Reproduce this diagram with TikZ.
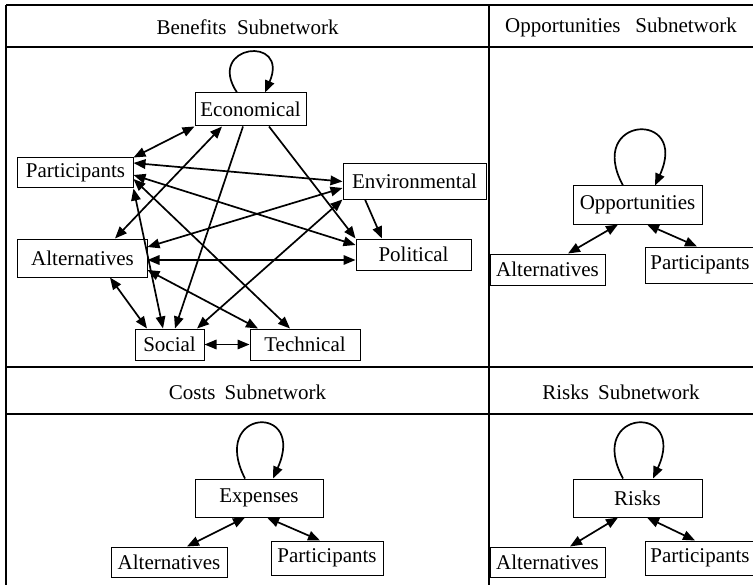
\documentclass[tikz,border=0pt]{standalone}
\usepackage{fontspec}
\setmainfont{Liberation Serif}
\usetikzlibrary{arrows.meta}
\begin{document}
\begin{tikzpicture}[x=1bp,y=-1bp,
  box/.style={draw,line width=1bp,inner sep=0pt,font=\fontsize{21bp}{25bp}\selectfont},
  sz/.style 2 args={minimum width=#1bp,minimum height=#2bp},
  frame/.style={line width=2bp},
  hdr/.style={font=\fontsize{21bp}{25bp}\selectfont,inner sep=0pt},
  bi/.style={line width=1.7bp,{Triangle[length=12bp,width=9.5bp]}-{Triangle[length=12bp,width=9.5bp]}},
  uni/.style={line width=1.7bp,-{Triangle[length=12bp,width=9.5bp]}}]
\useasboundingbox (0,0) rectangle (753,585);
\clip (0,0) rectangle (753,585);
% frame
\draw[frame] (6,5) -- (760,5);
\draw[frame] (6,5) -- (6,590);
\draw[frame] (6,47.5) -- (760,47.5);
\draw[frame] (6,367) -- (760,367);
\draw[frame] (6,414) -- (760,414);
\draw[frame] (489,5) -- (489,590);
% headers
\node[hdr] (hb) at (247.5,27) {Benefits\hspace{0.5em}Subnetwork};
\node[hdr] (ho) at (621,27) {Opportunities\hspace{0.7em}Subnetwork};
\node[hdr] (hc) at (247.5,392) {Costs\hspace{0.43em}Subnetwork};
\node[hdr] (hr) at (621,392) {Risks\hspace{0.43em}Subnetwork};
% benefits nodes
\node[box,sz={111}{33}] (eco) at (250.5,109.5) {Economical};
\node[box,sz={115}{30}] (par) at (75.5,173) {Participants};
\node[box,sz={143}{35}] (env) at (414.5,181.5) {Environmental};
\node[box,sz={129}{38}] (alt) at (82.5,258) {Alternatives};
\node[box,sz={115}{31}] (pol) at (413.5,254.5) {Political};
\node[box,sz={69}{31}] (soc) at (169.5,344.5) {Social};
\node[box,sz={110}{31}] (tec) at (305,344.5) {Technical};
% benefits edges
\draw[uni] ([xshift=-13.5bp]eco.north) .. controls +(-32,-48) and +(25,-58) .. ([xshift=14.5bp]eco.north);
\draw[bi] (eco.south west) -- (par.north east);
\draw[bi] ([xshift=-28.5bp]eco.south) -- ([xshift=32.5bp]alt.north);
\draw[uni] ([xshift=-7.5bp]eco.south) -- ([xshift=5.5bp]soc.north);
\draw[uni] ([xshift=18.5bp]eco.south) -- (pol.north west);
\draw[bi] ([yshift=10bp]par.east) -- (env.west);
\draw[bi] ([yshift=-2bp]par.east) -- ([yshift=9.5bp]pol.west);
\draw[bi] (par.south east) -- ([xshift=-6.5bp]soc.north);
\draw[bi] ([yshift=-6bp]par.east) -- ([xshift=-15bp]tec.north);
\draw[bi] ([yshift=-6.5bp]env.west) -- ([yshift=11bp]alt.east);
\draw[bi] (env.south west) -- ([xshift=27.5bp]soc.north);
\draw[uni] ([xshift=-49.5bp]env.south) -- ([xshift=-31.5bp]pol.north);
\draw[bi] ([yshift=-2bp]alt.east) -- ([yshift=-5.5bp]pol.west);
\draw[bi] ([xshift=27.5bp]alt.south) -- ([xshift=-22.5bp]soc.north);
\draw[bi] ([yshift=-12bp]alt.east) -- ([xshift=-47bp]tec.north);
\draw[bi] (soc.east) -- (tec.west);
% opportunities
\node[box,sz={129}{38}] (opp) at (637.5,205) {Opportunities};
\node[box,sz={115}{31}] (oalt) at (547.5,269.5) {Alternatives};
\node[box,sz={110}{36}] (opar) at (700,265) {Participants};
\draw[uni] ([xshift=-14.5bp]opp.north) .. controls +(-38,-70) and +(35,-76) .. ([xshift=17.5bp]opp.north);
\draw[bi] ([xshift=-19.5bp]opp.south) -- ([xshift=20.5bp]oalt.north);
\draw[bi] ([xshift=9.5bp]opp.south) -- ([xshift=-3bp]opar.north);
% costs
\node[box,sz={128}{38}] (exp) at (259,498) {Expenses};
\node[box,sz={116}{30}] (calt) at (169,562) {Alternatives};
\node[box,sz={112}{34}] (cpar) at (327,558) {Participants};
\draw[uni] ([xshift=-14bp]exp.north) .. controls +(-36,-70) and +(34,-76) .. ([xshift=14bp]exp.north);
\draw[bi] ([xshift=-14bp]exp.south) -- ([xshift=18bp]calt.north);
\draw[bi] ([xshift=8bp]exp.south) -- ([xshift=-7bp]cpar.north);
% risks
\node[box,sz={129}{38}] (risk) at (637.5,498) {Risks};
\node[box,sz={115}{30}] (ralt) at (547.5,562) {Alternatives};
\node[box,sz={110}{34}] (rpar) at (700,558) {Participants};
\draw[uni] ([xshift=-14.5bp]risk.north) .. controls +(-38,-70) and +(35,-76) .. ([xshift=15.5bp]risk.north);
\draw[bi] ([xshift=-19.5bp]risk.south) -- ([xshift=22.5bp]ralt.north);
\draw[bi] ([xshift=9.5bp]risk.south) -- ([xshift=-5bp]rpar.north);
\end{tikzpicture}
\end{document}
